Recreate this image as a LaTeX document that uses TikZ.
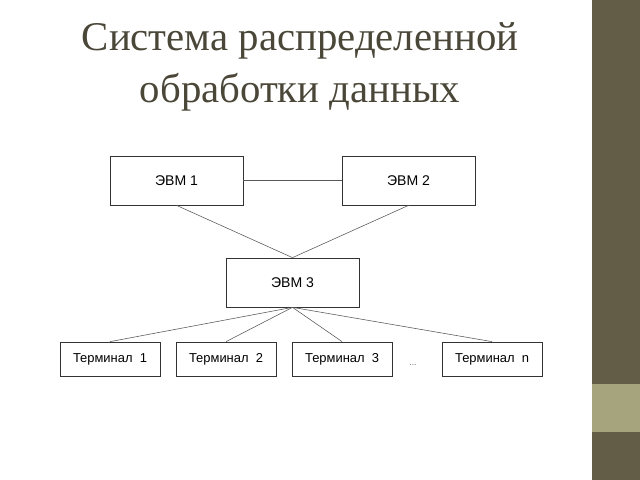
\documentclass[tikz,border=0pt]{standalone}
\usepackage{fontspec}
\setmainfont{Liberation Serif}
\newfontfamily\boxfont{Liberation Sans}
\usetikzlibrary{positioning}
\definecolor{titlegray}{HTML}{4A4638}
\definecolor{barolive}{HTML}{635D48}
\definecolor{bandolive}{HTML}{A6A47C}

\begin{document}
\begin{tikzpicture} [x=0.025cm, y=-0.025cm,
            node distance = 2.9cm,
            on grid,
            evm/.style = {draw=black!80, line width=0.5pt, fill=white,
                minimum width=3.325cm, minimum height=1.225cm,
                inner sep=0pt, font=\boxfont\fontsize{10}{12}\selectfont},
            term/.style = {evm, minimum width=2.5cm, minimum height=0.85cm,
                font=\boxfont\fontsize{9.2}{11}\selectfont},
            link/.style = {draw=black!65, line width=0.4pt}]

        % Page
        \useasboundingbox (0,0) rectangle (640,480);
        \fill[white] (0,0) rectangle (640,480);
        \fill[barolive] (592,0) rectangle (640,480);
        \fill[bandolive] (592,384) rectangle (640,432);

        % Title
        \node (title) [align=center, text=titlegray,
            font=\fontsize{29}{37}\selectfont] at (300,67)
            {Система распределенной\\обработки данных};

        % ЭВМ 1
        \node (e1) [evm] at (176.5,180.5) {ЭВМ 1};

        % ЭВМ 2
        \node (e2) [evm, right = 5.8cm of e1] {ЭВМ 2};

        % ЭВМ 3
        \node (e3) [evm] at (292.5,282.5) {ЭВМ 3};

        % Terminals
        \node (t1) [term] at (110,359) {Терминал\ \ 1};
        \node (t2) [term, right = of t1] {Терминал\ \ 2};
        \node (t3) [term, right = of t2] {Терминал\ \ 3};
        \node (tn) [term, right = 3.75cm of t3] {Терминал\ \ n};
        \node (dots) [font=\boxfont\fontsize{6}{6}\selectfont, text=black!60]
            at (413,365) {...};

        % Lines
        \path [link]
            (e1) edge (e2)
            (e1.south) edge (e3.north)
            (e2.south) edge (e3.north)
            (e3.south) edge (t1.north)
            (e3.south) edge (t2.north)
            (e3.south) edge (t3.north)
            (e3.south) edge (tn.north)
            ;
\end{tikzpicture}
\end{document}
